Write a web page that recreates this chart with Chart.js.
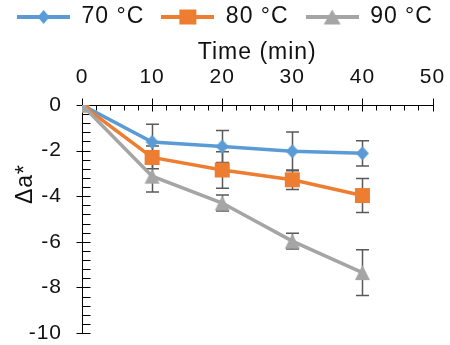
<!DOCTYPE html>
<html><head><meta charset="utf-8">
<script src="https://cdn.jsdelivr.net/npm/chart.js@4.4.1/dist/chart.umd.min.js"></script>
<style>html,body{margin:0;padding:0;background:#fff;overflow:hidden}</style>
</head><body>
<canvas id="c" width="450" height="345" style="width:450px;height:345px;display:block"></canvas>
<script>
// ---- data ----
const times = [0, 10, 20, 30, 40];
const series70 = [0, -1.62, -1.82, -2.03, -2.12];
const error70  = [0, 0.78, 0.70, 0.85, 0.55];
const series80 = [0, -2.30, -2.85, -3.28, -3.97];
const error80  = [0, 0.50, 0.80, 0.43, 0.75];
const series90 = [0, -3.12, -4.30, -5.97, -7.35];
const error90  = [0, 0.70, 0.35, 0.35, 1.00];
const seriesLabels = ['70 °C', '80 °C', '90 °C'];
const xTitle = 'Time (min)';
const yTitle = 'Δa*';

const FONT = '"Liberation Sans", Arial, sans-serif';
const colors = ['#5B9BD5', '#ED7D31', '#A5A5A5'];
const shapes = ['diamond', 'square', 'triangle'];

function drawShape(g, shape, cx, cy, w, h) {
  g.beginPath();
  if (shape === 'diamond') {
    g.moveTo(cx, cy - h / 2); g.lineTo(cx + w / 2, cy); g.lineTo(cx, cy + h / 2); g.lineTo(cx - w / 2, cy);
  } else if (shape === 'square') {
    g.rect(cx - w / 2, cy - h / 2, w, h);
  } else {
    g.moveTo(cx, cy - h / 2); g.lineTo(cx + w / 2, cy + h / 2); g.lineTo(cx - w / 2, cy + h / 2);
  }
  g.closePath(); g.fill();
}
const markerSize = { diamond: [13, 14], square: [15, 15], triangle: [15, 15] };
function makeMarker(color, shape) {
  const [w, h] = markerSize[shape];
  const c = document.createElement('canvas'); c.width = w + 2; c.height = h + 2;
  const g = c.getContext('2d'); g.fillStyle = color;
  drawShape(g, shape, c.width / 2, c.height / 2, w, h);
  return c;
}
const legendMarkerSize = { diamond: [12, 14], square: [17, 15], triangle: [17, 15] };
function makeLegendIcon(color, shape) {
  const c = document.createElement('canvas'); c.width = 53; c.height = 18;
  const g = c.getContext('2d');
  g.strokeStyle = color; g.fillStyle = color; g.lineWidth = 4;
  g.beginPath(); g.moveTo(0, 9); g.lineTo(53, 9); g.stroke();
  const [w, h] = legendMarkerSize[shape];
  drawShape(g, shape, 26.5, 9, w, h);
  return c;
}

const allSeries = [series70, series80, series90];
const allErrors = [error70, error80, error90];
const datasets = allSeries.map((s, i) => ({
  label: seriesLabels[i],
  data: times.map((t, k) => ({ x: t, y: s[k] })),
  errors: allErrors[i],
  borderColor: colors[i],
  backgroundColor: colors[i],
  borderWidth: 3.5,
  pointStyle: makeMarker(colors[i], shapes[i]),
  legendIcon: makeLegendIcon(colors[i], shapes[i]),
  pointRadius: 7,
  order: 3 - i,
  tension: 0
}));

const spacingPlugin = {
  id: 'spacing',
  beforeLayout(chart) { chart.ctx.letterSpacing = '1px'; },
  beforeDraw(chart) { chart.ctx.letterSpacing = '1px'; }
};

const axesPlugin = {
  id: 'axesTicks',
  beforeDatasetsDraw(chart) {
    const { ctx, chartArea: a, scales: { x, y } } = chart;
    ctx.save();
    ctx.strokeStyle = '#000'; ctx.lineWidth = 1;
    const ax = Math.round(a.left) + 0.5, ay = Math.round(a.top) + 0.5;
    ctx.beginPath();
    ctx.moveTo(ax, ay); ctx.lineTo(Math.round(a.right) + 0.5, ay);
    ctx.moveTo(ax, ay); ctx.lineTo(ax, Math.round(a.bottom) + 0.5);
    for (let k = 0; k <= 25; k++) {
      const px = Math.round(x.getPixelForValue(k * 2)) + 0.5;
      const major = k % 5 === 0;
      ctx.moveTo(px, major ? ay - 7 : ay);
      ctx.lineTo(px, ay + (major ? 6 : 5));
    }
    for (let k = 0; k <= 25; k++) {
      const py = Math.round(y.getPixelForValue(-k * 0.4)) + 0.5;
      const major = k % 5 === 0;
      ctx.moveTo(major ? ax - 6 : ax, py);
      ctx.lineTo(ax + 8, py);
    }
    ctx.stroke();
    // error bars
    ctx.strokeStyle = '#595959'; ctx.lineWidth = 1.5;
    chart.data.datasets.forEach((ds) => {
      ds.data.forEach((p, k) => {
        const e = ds.errors[k];
        if (!e) return;
        const px = Math.round(x.getPixelForValue(p.x)) + 0.5;
        const y1 = y.getPixelForValue(p.y + e), y2 = y.getPixelForValue(p.y - e);
        ctx.beginPath();
        ctx.moveTo(px, y1); ctx.lineTo(px, y2);
        ctx.moveTo(px - 6.5, y1); ctx.lineTo(px + 6.5, y1);
        ctx.moveTo(px - 6.5, y2); ctx.lineTo(px + 6.5, y2);
        ctx.stroke();
      });
    });
    ctx.restore();
  },
  afterDraw(chart) {
    const { ctx } = chart;
    ctx.save();
    ctx.letterSpacing = '1px';
    ctx.fillStyle = '#111';
    ctx.font = '23px ' + FONT;
    ctx.translate(26, 184);
    ctx.rotate(-Math.PI / 2);
    ctx.textAlign = 'center'; ctx.textBaseline = 'middle';
    ctx.fillText(yTitle, 0, 0);
    ctx.restore();
  }
};

new Chart(document.getElementById('c'), {
  type: 'line',
  data: { datasets },
  plugins: [spacingPlugin, axesPlugin],
  options: {
    responsive: false,
    animation: false,
    devicePixelRatio: 1,
    layout: { padding: { top: -11.5, left: -10, right: -10, bottom: 12 } },
    plugins: {
      tooltip: { enabled: false },
      legend: {
        position: 'top',
        labels: {
          usePointStyle: true,
          pointStyleWidth: 53,
          padding: 17,
          color: '#111',
          font: { family: FONT, size: 23 },
          generateLabels: (chart) => chart.data.datasets.map((ds, i) => ({
            text: ds.label, pointStyle: ds.legendIcon, fillStyle: ds.borderColor,
            strokeStyle: ds.borderColor, lineWidth: 0, hidden: false, datasetIndex: i, fontColor: '#111'
          }))
        }
      }
    },
    scales: {
      x: {
        type: 'linear', position: 'top', min: 0, max: 50,
        grid: { display: false, drawTicks: false }, border: { display: false },
        ticks: { stepSize: 10, padding: 15, color: '#111', font: { family: FONT, size: 21 } },
        title: { display: true, text: xTitle, color: '#111', padding: { top: 0, bottom: 0 }, font: { family: FONT, size: 23 } },
        afterFit: (s) => { s.height = 66.5; s.paddingRight = 17.5; s.paddingLeft = 0; }
      },
      y: {
        type: 'linear', min: -10, max: 0,
        grid: { display: false, drawTicks: false }, border: { display: false },
        ticks: { stepSize: 2, padding: 20, color: '#111', font: { family: FONT, size: 21 } },
        afterFit: (s) => { s.width = 92; s.paddingTop = 0; s.paddingBottom = 12; }
      }
    }
  }
});
</script>
</body></html>
